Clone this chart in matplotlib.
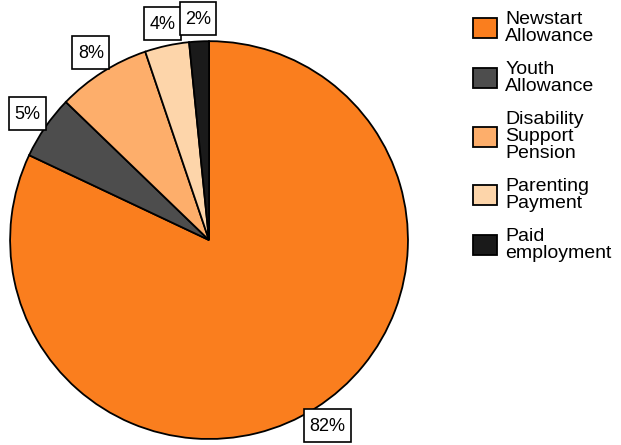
import numpy as np
import matplotlib.pyplot as plt
from matplotlib.patches import Patch
from matplotlib.path import Path

plt.rcParams['font.family'] = ['Liberation Sans', 'DejaVu Sans']

# income source shares (%)
categories = ['Newstart\nAllowance', 'Youth\nAllowance', 'Disability\nSupport\nPension',
              'Parenting\nPayment', 'Paid\nemployment']
shares = [82.1, 5.2, 7.6, 3.6, 1.6]
colors = ['#FA7E1E', '#4D4D4D', '#FDAE6B', '#FDD5AA', '#1A1A1A']


def tall_box(x0, y0, width, height, mutation_size):
    # square box, more padding top/bottom than left/right
    px = 0.3 * mutation_size
    top = 0.5 * mutation_size
    bot = 0.38 * mutation_size
    x1, y1 = x0 + width + px, y0 + height + top
    x0, y0 = x0 - px, y0 - bot
    return Path([(x0, y0), (x1, y0), (x1, y1), (x0, y1), (x0, y0)], closed=True)


fig = plt.figure(figsize=(6.21, 4.45), dpi=100)
ax = fig.add_axes([0.0161, 0.0135, 0.641, 0.894])

wedges, texts = ax.pie(shares, colors=colors, startangle=90, counterclock=False,
                       wedgeprops=dict(edgecolor='black', linewidth=1.3))

# boxed percentage labels just outside each slice
for w, v in zip(wedges, shares):
    ang = np.radians((w.theta1 + w.theta2) / 2)
    d = 1.11
    ax.text(d * np.cos(ang), d * np.sin(ang), f'{v:.0f}%', ha='center', va='center',
            fontsize=13,
            bbox=dict(boxstyle=tall_box, facecolor='white', edgecolor='black', linewidth=1.2))
ax.set_xlim(-1, 1)
ax.set_ylim(-1, 1)
ax.axis('off')

handles = [Patch(facecolor=c, edgecolor='black', linewidth=1.3) for c in colors]
leg = fig.legend(handles, categories, loc='upper left', bbox_to_anchor=(0.74, 1.005),
                 frameon=False, fontsize=14, handlelength=1.25, handleheight=1.2,
                 handletextpad=0.4, labelspacing=0.82, borderaxespad=0.3)
for t in leg.get_texts():
    t.set_linespacing(1.0)

fig.savefig('out.png', dpi=100)
